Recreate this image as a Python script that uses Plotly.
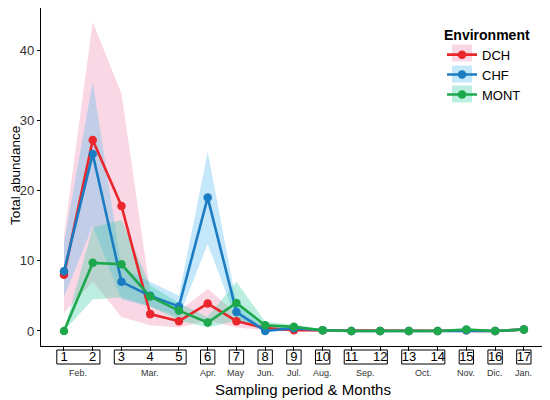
import plotly.graph_objects as go

# sampling periods and months
periods = list(range(1, 18))
tick_labels = [str(p) for p in periods]
month_names = ['Feb.', 'Mar.', 'Apr.', 'May', 'Jun.', 'Jul.', 'Aug.', 'Sep.', 'Oct.', 'Nov.', 'Dic.', 'Jan.']
month_groups = [(1, 2), (3, 5), (6, 6), (7, 7), (8, 8), (9, 9), (10, 10), (11, 12), (13, 14), (15, 15), (16, 16), (17, 17)]

# mean abundance per environment
dch = [8.0, 27.2, 17.8, 2.4, 1.4, 3.9, 1.4, 0.4, 0.1, 0.1, 0.0, 0.0, 0.0, 0.0, 0.1, 0.0, 0.2]
chf = [8.5, 25.2, 7.0, 5.0, 3.5, 19.0, 2.7, 0.0, 0.4, 0.1, 0.0, 0.0, 0.0, 0.0, 0.1, 0.0, 0.2]
mont = [0.0, 9.7, 9.5, 4.9, 2.9, 1.2, 4.0, 0.8, 0.6, 0.1, 0.0, 0.0, 0.0, 0.0, 0.2, 0.0, 0.2]

# ribbons (lower / upper)
dch_lo = [2.6, 7.0, 2.0, 0.8, 0.5, 1.5, 0.5, 0.1, 0.0, 0.0, 0.0, 0.0, 0.0, 0.0, 0.0, 0.0, 0.0]
dch_hi = [13.5, 44.0, 33.8, 5.5, 2.8, 6.0, 2.5, 0.8, 0.3, 0.2, 0.1, 0.1, 0.1, 0.1, 0.3, 0.1, 0.4]
chf_lo = [4.8, 15.0, 4.5, 3.5, 2.0, 12.4, 1.5, 0.0, 0.1, 0.0, 0.0, 0.0, 0.0, 0.0, 0.0, 0.0, 0.0]
chf_hi = [12.5, 35.5, 9.0, 7.0, 5.0, 25.5, 4.0, 0.3, 0.7, 0.2, 0.1, 0.1, 0.1, 0.1, 0.3, 0.1, 0.4]
mont_lo = [0.0, 4.5, 4.8, 3.5, 1.5, 0.5, 1.5, 0.3, 0.3, 0.0, 0.0, 0.0, 0.0, 0.0, 0.0, 0.0, 0.0]
mont_hi = [0.0, 14.7, 15.8, 6.5, 4.0, 2.0, 7.0, 1.3, 0.9, 0.2, 0.1, 0.1, 0.1, 0.1, 0.4, 0.1, 0.4]

envs = [
    ('DCH', dch, dch_lo, dch_hi, '#E8262B', 'rgba(240,130,170,0.32)'),
    ('CHF', chf, chf_lo, chf_hi, '#1B7CC1', 'rgba(90,185,240,0.35)'),
    ('MONT', mont, mont_lo, mont_hi, '#1DA84C', 'rgba(60,205,170,0.35)'),
]

fig = go.Figure()

# ribbons first
for name, m, lo, hi, col, fill in envs:
    fig.add_trace(go.Scatter(x=periods + periods[::-1], y=hi + lo[::-1],
                             fill='toself', fillcolor=fill, line=dict(width=0),
                             mode='lines', hoverinfo='skip', showlegend=False))

# lines with points
for name, m, lo, hi, col, fill in envs:
    fig.add_trace(go.Scatter(x=periods, y=m, name=name, mode='lines+markers',
                             line=dict(color=col, width=2.6),
                             marker=dict(color=col, size=8.5)))

# boxes round the tick labels, months underneath
shapes = []
annots = []
for (a, b), mon in zip(month_groups, month_names):
    shapes.append(dict(type='rect', xref='x', yref='paper',
                       x0=a - 0.25, x1=b + 0.25, y0=-0.0533, y1=-0.0118,
                       line=dict(color='black', width=1), fillcolor='rgba(0,0,0,0)'))
    annots.append(dict(x=(a + b) / 2, y=-0.080, xref='x', yref='paper',
                       text=mon, showarrow=False, yanchor='middle',
                       font=dict(size=9, color='#333333')))

# axis titles
annots.append(dict(x=0.517, y=-0.130, xref='paper', yref='paper',
                   text='Sampling period & Months', showarrow=False, yanchor='middle',
                   font=dict(size=15, color='black')))
annots.append(dict(x=-0.0495, y=0.506, xref='paper', yref='paper', textangle=-90,
                   text='Total abundance', showarrow=False, xanchor='center', yanchor='middle',
                   font=dict(size=13.5, color='black')))

# pale key backgrounds in the legend
for yc, env in zip([0.8669, 0.8047, 0.7456], envs):
    shapes.append(dict(type='rect', xref='paper', yref='paper', layer='below',
                       x0=0.8107, x1=0.8501, y0=yc - 0.025, y1=yc + 0.025,
                       line=dict(width=0), fillcolor=env[5]))

# page body keeps an 8px margin, so the figure is 8px smaller each way
fig.update_layout(
    width=542, height=392,
    margin=dict(l=33, r=2, t=0, b=54),
    plot_bgcolor='white', paper_bgcolor='white',
    font=dict(family='Liberation Sans, Arial', color='black'),
    shapes=shapes, annotations=annots,
    legend=dict(x=0.791, y=0.96, xanchor='left', yanchor='top',
                title=dict(text='<b>Environment</b>', font=dict(size=14)),
                font=dict(size=13), bgcolor='rgba(0,0,0,0)', tracegroupgap=2),
)
fig.update_xaxes(range=[0.2, 17.84], tickvals=periods, ticktext=tick_labels,
                 automargin=False, ticklabelstandoff=-6,
                 showgrid=False, zeroline=False, showline=True, linecolor='black', linewidth=1.2,
                 ticks='outside', ticklen=4, tickcolor='black',
                 tickfont=dict(size=13, color='black'))
fig.update_yaxes(range=[-2.14, 46.0], tickvals=[0, 10, 20, 30, 40], automargin=False,
                 showgrid=False, zeroline=False, showline=True, linecolor='black', linewidth=1.2,
                 ticks='outside', ticklen=3, tickcolor='black',
                 tickfont=dict(size=13, color='#333333'))

fig.write_html("out.html")
